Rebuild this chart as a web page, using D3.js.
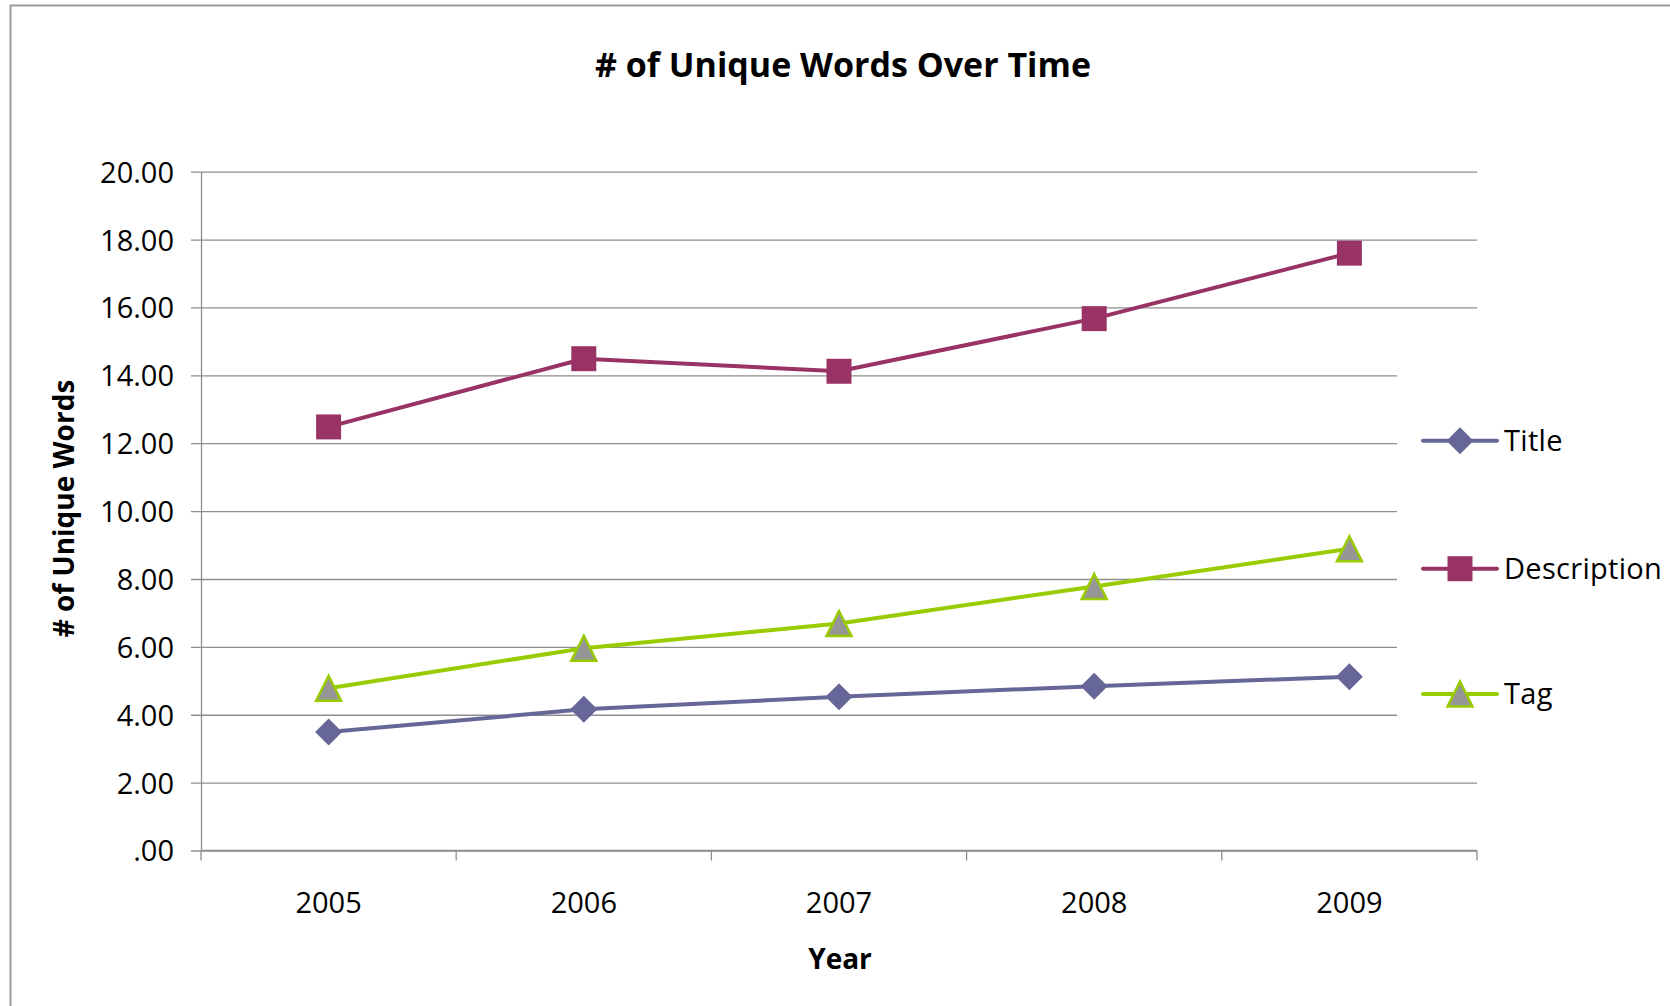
<!DOCTYPE html>
<html>
<head>
<meta charset="utf-8">
<script src="https://cdn.jsdelivr.net/npm/d3@7"></script>
<style>
  html, body { margin: 0; padding: 0; background: #fff; }
  svg { display: block; }
  text { font-family: "Open Sans", "Noto Sans", sans-serif; fill: #000; }
</style>
</head>
<body>
<svg id="chart" width="1670" height="1006"></svg>
<script>
// ---- data ----
const years = ["2005", "2006", "2007", "2008", "2009"];
const titleWords = [3.49, 4.16, 4.53, 4.84, 5.12];
const descriptionWords = [12.48, 14.49, 14.12, 15.67, 17.60];
const tagWords = [4.78, 5.96, 6.69, 7.78, 8.89];
const seriesNames = ["Title", "Description", "Tag"];
const yTicks = [0, 2, 4, 6, 8, 10, 12, 14, 16, 18, 20];
const yTickLabels = [".00", "2.00", "4.00", "6.00", "8.00", "10.00", "12.00", "14.00", "16.00", "18.00", "20.00"];

const chartTitle = "# of Unique Words Over Time";
const xTitle = "Year";
const yTitle = "# of Unique Words";

// ---- layout ----
const W = 1670, H = 1006;
const plot = { left: 201, right: 1477, top: 171.7, bottom: 850.5 };
const axisColor = "#8e8e8e";

const svg = d3.select("#chart");
svg.append("rect").attr("width", W).attr("height", H).attr("fill", "#fff");

// outer chart-area frame (runs off the right and bottom edges)
svg.append("rect")
  .attr("x", 10.5).attr("y", 5.5)
  .attr("width", W + 20).attr("height", H + 20)
  .attr("fill", "none").attr("stroke", "#9a9a9a").attr("stroke-width", 2);

const x = d3.scaleBand().domain(years).range([plot.left, plot.right]).padding(0);
const y = d3.scaleLinear().domain([0, 20]).range([plot.bottom, plot.top]);

// horizontal gridlines with outward ticks
const grid = svg.append("g").attr("transform", `translate(${plot.left},0)`)
  .call(d3.axisLeft(y).tickValues(yTicks)
    .tickSize(-(plot.right - plot.left)).tickFormat(""));
grid.select(".domain").remove();
grid.selectAll(".tick line")
  .attr("x1", -10)
  .attr("stroke", axisColor).attr("stroke-width", 1.3);

// y axis labels + vertical axis line
const yAxis = svg.append("g").attr("transform", `translate(${plot.left},0)`)
  .call(d3.axisLeft(y).tickValues(yTicks).tickSize(0).tickPadding(27)
    .tickFormat((d, i) => yTickLabels[i]));
yAxis.select(".domain").attr("stroke", axisColor).attr("stroke-width", 1.3);
yAxis.selectAll(".tick text")
  .attr("font-size", 29).attr("dy", "0.36em")
  .style("font-family", '"Open Sans", sans-serif').attr("fill", "#000");

// x axis: category labels centred in bands, ticks at band boundaries
const xAxis = svg.append("g").attr("transform", `translate(0,${plot.bottom})`)
  .call(d3.axisBottom(x).tickSize(0).tickPadding(0));
xAxis.select(".domain").remove();
xAxis.selectAll(".tick text")
  .attr("font-size", 29).attr("y", 62).attr("dy", 0)
  .style("font-family", '"Open Sans", sans-serif').attr("fill", "#000");

const boundaries = years.map(d => x(d)).concat([x(years[years.length - 1]) + x.bandwidth()]);
svg.append("line")
  .attr("x1", plot.left).attr("x2", plot.right)
  .attr("y1", plot.bottom).attr("y2", plot.bottom)
  .attr("stroke", axisColor).attr("stroke-width", 1.3);
svg.append("g").selectAll("line").data(boundaries).join("line")
  .attr("x1", d => d).attr("x2", d => d)
  .attr("y1", plot.bottom).attr("y2", plot.bottom + 10)
  .attr("stroke", axisColor).attr("stroke-width", 1.3);

// legend backdrop hides gridlines behind it
svg.append("rect")
  .attr("x", 1397).attr("y", 330).attr("width", 273).attr("height", 425)
  .attr("fill", "#fff");

// ---- series ----
const markerPaths = {
  diamond: s => `M0,${-s / 2}L${s / 2},0L0,${s / 2}L${-s / 2},0Z`,
  square: s => `M${-s / 2},${-s / 2}h${s}v${s}h${-s}Z`,
  triangle: s => `M0,${-s / 2}L${s / 2},${s / 2}L${-s / 2},${s / 2}Z`
};

const series = [
  { name: seriesNames[0], values: titleWords, color: "#666699", marker: "diamond", size: 27, fill: "#666699", stroke: "none", sw: 0 },
  { name: seriesNames[1], values: descriptionWords, color: "#993366", marker: "square", size: 25, fill: "#993366", stroke: "none", sw: 0 },
  { name: seriesNames[2], values: tagWords, color: "#99cc00", marker: "triangle", size: 25, fill: "#969696", stroke: "#99cc00", sw: 2.5 }
];

const cx = d => x(d) + x.bandwidth() / 2;
const line = d3.line().x(d => cx(d.year)).y(d => y(d.value));

series.forEach(s => {
  const pts = years.map((yr, i) => ({ year: yr, value: s.values[i] }));
  const g = svg.append("g");
  g.append("path").datum(pts)
    .attr("d", line)
    .attr("fill", "none").attr("stroke", s.color)
    .attr("stroke-width", 4).attr("stroke-linejoin", "round");
  g.selectAll("path.m").data(pts).join("path")
    .attr("class", "m")
    .attr("transform", d => `translate(${cx(d.year)},${y(d.value)})`)
    .attr("d", markerPaths[s.marker](s.size))
    .attr("fill", s.fill)
    .attr("stroke", s.stroke).attr("stroke-width", s.sw)
    .attr("stroke-linejoin", "miter");
});

// ---- legend ----
const legendY = [440.7, 568.7, 694];
const legend = svg.append("g");
series.forEach((s, i) => {
  const ly = legendY[i];
  legend.append("line")
    .attr("x1", 1423).attr("x2", 1497).attr("y1", ly).attr("y2", ly)
    .attr("stroke", s.color).attr("stroke-width", 4).attr("stroke-linecap", "round");
  legend.append("path")
    .attr("transform", `translate(1460,${ly})`)
    .attr("d", markerPaths[s.marker](s.size))
    .attr("fill", s.fill).attr("stroke", s.stroke).attr("stroke-width", s.sw);
  legend.append("text")
    .attr("x", 1504).attr("y", ly).attr("dy", "0.36em")
    .attr("font-size", 29).attr("letter-spacing", 0.3)
    .text(s.name);
});

// ---- titles ----
svg.append("text")
  .attr("x", 843).attr("y", 65).attr("dy", "0.36em")
  .attr("text-anchor", "middle").attr("font-size", 34).attr("font-weight", 700)
  .text(chartTitle);

svg.append("text")
  .attr("x", 840).attr("y", 958.5).attr("dy", "0.36em")
  .attr("text-anchor", "middle").attr("font-size", 28).attr("font-weight", 700)
  .text(xTitle);

svg.append("text")
  .attr("transform", "translate(63.5,508.5) rotate(-90)")
  .attr("dy", "0.36em")
  .attr("text-anchor", "middle").attr("font-size", 28).attr("font-weight", 700)
  .text(yTitle);
</script>
</body>
</html>
